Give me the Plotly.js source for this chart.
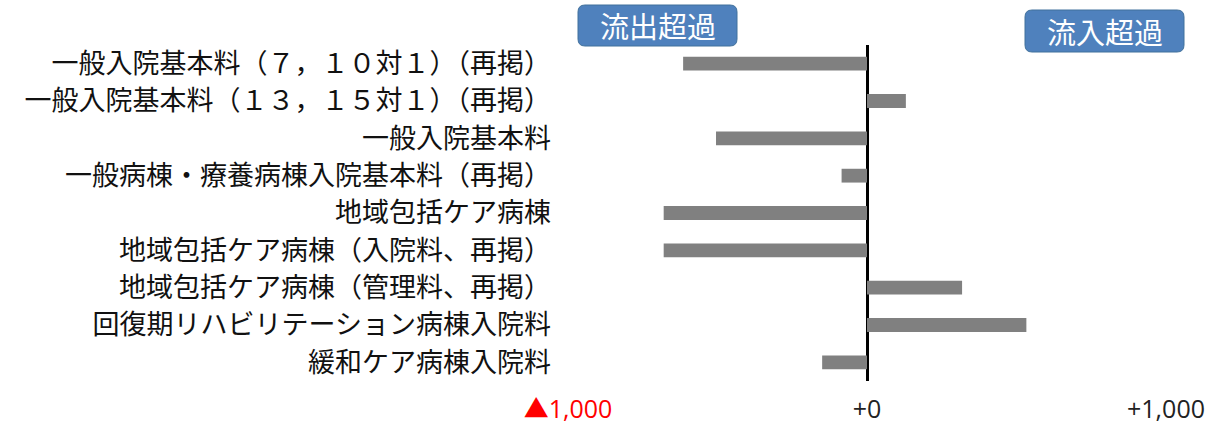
<!DOCTYPE html>
<html>
<head>
<meta charset="utf-8">
<script src="https://cdn.plot.ly/plotly-3.0.1.min.js"></script>
<style>
  html, body { margin: 0; padding: 0; background: #fff; }
  #myPlot { width: 1221px; height: 427px; }
</style>
</head>
<body>
<div id="myPlot"></div>
<script>
// categories, top to bottom
const categories = [
  '一般入院基本料（７，１０対１）（再掲）',
  '一般入院基本料（１３，１５対１）（再掲）',
  '一般入院基本料',
  '一般病棟・療養病棟入院基本料（再掲）',
  '地域包括ケア病棟',
  '地域包括ケア病棟（入院料、再掲）',
  '地域包括ケア病棟（管理料、再掲）',
  '回復期リハビリテーション病棟入院料',
  '緩和ケア病棟入院料'
];

// net flow (negative = outflow)
const values = [-615, 130, -505, -85, -680, -680, 318, 533, -150];

const tickVals = [-1000, 0, 1000];
const tickText = ['<span style="color:#ff0000">▲1,000</span>', '+0', '+1,000'];

const jpFont = '"Noto Sans CJK JP", "Noto Sans", sans-serif';
const boxBlue = '#4f81bd';

// rounded box outline, pixel coords relative to an anchor
function roundBox(x0, x1, y0, y1, r) {
  return 'M' + (x0 + r) + ',' + y1 +
    ' L' + (x1 - r) + ',' + y1 + ' Q' + x1 + ',' + y1 + ' ' + x1 + ',' + (y1 - r) +
    ' L' + x1 + ',' + (y0 + r) + ' Q' + x1 + ',' + y0 + ' ' + (x1 - r) + ',' + y0 +
    ' L' + (x0 + r) + ',' + y0 + ' Q' + x0 + ',' + y0 + ' ' + x0 + ',' + (y0 + r) +
    ' L' + x0 + ',' + (y1 - r) + ' Q' + x0 + ',' + y1 + ' ' + (x0 + r) + ',' + y1 + ' Z';
}

var trace = {
  type: 'bar',
  orientation: 'h',
  x: values,
  y: categories,
  width: 0.37,
  marker: { color: '#808080', line: { width: 0 } },
  hoverinfo: 'x+y'
};

var layout = {
  width: 1221,
  height: 427,
  margin: { l: 568, r: 55, t: 45, b: 46 },
  paper_bgcolor: '#fff',
  plot_bgcolor: '#fff',
  showlegend: false,
  font: { family: jpFont, color: '#000' },
  xaxis: {
    range: [-1000, 1000],
    tickvals: tickVals,
    ticktext: tickText,
    tickfont: { size: 25, color: '#222', family: '"Open Sans", "Noto Sans CJK JP", sans-serif' },
    ticks: '',
    ticklabelstandoff: 11,
    showgrid: true,
    gridcolor: '#d9d9d9',
    gridwidth: 2,
    zeroline: true,
    zerolinecolor: '#000',
    zerolinewidth: 3,
    showline: false,
    fixedrange: true
  },
  yaxis: {
    autorange: 'reversed',
    tickfont: { size: 27, color: '#111' },
    ticks: '',
    ticklabelstandoff: 16,
    showgrid: false,
    zeroline: false,
    showline: false,
    fixedrange: true
  },
  shapes: [
    {
      type: 'path', xref: 'paper', yref: 'paper',
      xsizemode: 'pixel', ysizemode: 'pixel', xanchor: 0, yanchor: 1,
      path: roundBox(10, 169, -1, 40, 7),
      fillcolor: boxBlue, line: { color: '#41719c', width: 1 }, layer: 'above'
    },
    {
      type: 'path', xref: 'paper', yref: 'paper',
      xsizemode: 'pixel', ysizemode: 'pixel', xanchor: 1, yanchor: 1,
      path: roundBox(-141, 18, -7, 35, 7),
      fillcolor: boxBlue, line: { color: '#41719c', width: 1 }, layer: 'above'
    }
  ],
  annotations: [
    {
      text: '流出超過', xref: 'paper', yref: 'paper',
      x: 0, y: 1, xanchor: 'center', yanchor: 'middle',
      xshift: 89.5, yshift: 20,
      showarrow: false,
      font: { size: 29, color: '#fff', family: jpFont }
    },
    {
      text: '流入超過', xref: 'paper', yref: 'paper',
      x: 1, y: 1, xanchor: 'center', yanchor: 'middle',
      xshift: -61.5, yshift: 14,
      showarrow: false,
      font: { size: 29, color: '#fff', family: jpFont }
    }
  ]
};

Plotly.newPlot('myPlot', [trace], layout, { displayModeBar: false, staticPlot: true });
</script>
</body>
</html>
